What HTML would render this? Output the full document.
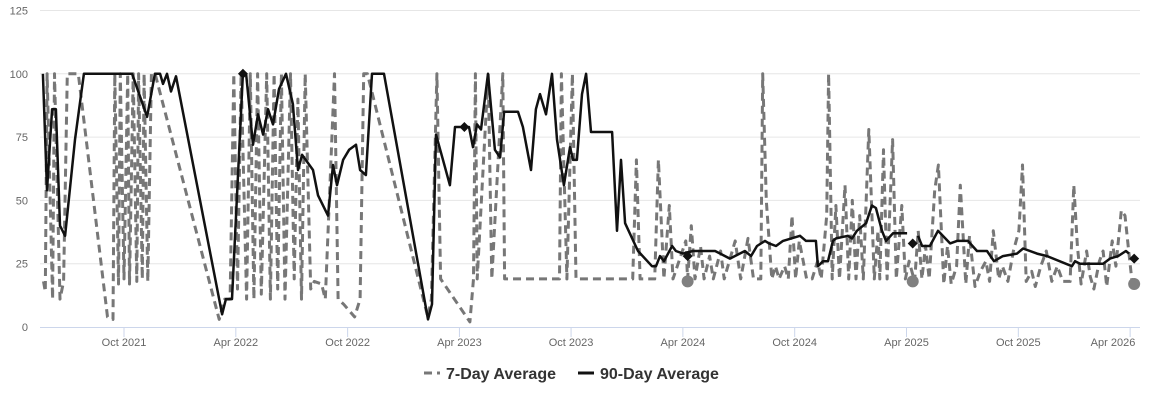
<!DOCTYPE html>
<html><head><meta charset="utf-8">
<style>
html,body{margin:0;padding:0;background:#fff;}
svg{display:block;font-family:"Liberation Sans",sans-serif;}
</style></head>
<body>
<svg id="chart" width="1150" height="401" viewBox="0 0 1150 401">
<g id="grid"></g>
<g id="xaxis"></g>
<g id="yaxis"></g>
<g id="series"></g>
<g id="legend">
  <g>
    <line x1="424" y1="373" x2="440" y2="373" stroke="#777" stroke-width="3" stroke-dasharray="8,5"/>
    <text x="446" y="379" font-size="16" font-weight="bold" fill="#333">7-Day Average</text>
  </g>
  <g>
    <line x1="578" y1="373" x2="594" y2="373" stroke="#111" stroke-width="3"/>
    <text x="600" y="379" font-size="16" font-weight="bold" fill="#333">90-Day Average</text>
  </g>
</g>
</svg>
<script>
const yTicks=[0,25,50,75,100,125];
const xTickT=[0,6.11,12.22,18.33,24.43,30.54,36.65,42.76,48.87,54.98];
const xTickLabels=["Oct 2021","Apr 2022","Oct 2022","Apr 2023","Oct 2023","Apr 2024","Oct 2024","Apr 2025","Oct 2025","Apr 2026"];
const avg90T=[-4.43,-4.21,-3.93,-3.72,-3.50,-3.22,-2.68,-2.19,0.44,1.26,1.69,1.97,2.13,2.35,2.57,2.84,5.36,5.57,5.90,6.50,6.67,7.05,7.32,7.60,7.87,8.14,8.47,8.85,9.23,9.51,9.73,10.33,10.60,11.15,11.42,11.64,11.97,12.30,12.68,12.90,13.22,13.55,14.21,16.61,16.83,17.05,17.43,17.81,18.09,18.85,19.07,19.29,19.51,19.89,20.27,20.55,20.77,21.53,21.80,22.24,22.51,22.73,23.06,23.39,23.66,24.04,24.37,24.54,24.75,25.03,25.25,25.52,26.67,26.94,27.16,27.38,28.09,28.85,29.07,29.29,29.51,29.95,30.16,30.55,31.09,31.37,32.30,33.11,33.93,34.26,34.59,35.03,35.25,35.63,36.01,36.94,37.27,37.81,37.92,38.20,38.47,38.74,38.91,39.56,39.78,40.05,40.55,40.87,41.09,41.42,41.64,42.02,42.79,43.1,43.39,43.61,44.04,44.48,45.14,45.52,46.12,46.61,47.16,47.54,48.03,48.80,49.13,49.89,50.44,51.80,51.97,52.24,52.79,53.33,53.50,53.88,54.32,54.75,54.92];
const avg90V=[100,54,86,86,40,36,74,100,100,83,100,100,96,100,93,99,5,11,11,100,100,72,84,76,86,80,94,100,88,62,68,62,52,44,64,56,66,70,72,62,60,100,100,3,9,76,66,56,79,79,71,80,78,100,70,67,85,85,79,62,86,92,84,100,74,56,71,66,66,92,100,77,77,38,66,41,30,24,24,28,26,32,30,29,30,30,30,27,30,28,32,34,33,32,34,36,34,34,24,26,26,34,35,36,35,38,41,48,47,38,34,37,37,null,36,32,32,38,33,34,34,30,30,26,28,29,31,29,28,24,26,25,25,25,25,27,28,30,29];
const avg7T=[-4.4,-4.3,-4.2,-3.9,-3.8,-3.5,-3.3,-3.1,-2.5,-0.9,-0.6,-0.5,-0.3,-0.2,0,0.2,0.3,0.5,0.7,0.8,1.0,1.1,1.3,1.5,1.7,5.2,5.5,5.8,6.0,6.2,6.4,6.7,6.9,7.1,7.3,7.5,7.8,8.0,8.2,8.4,8.6,8.8,9.1,9.3,9.5,9.7,9.9,10.2,10.4,10.8,11.0,11.5,11.7,12.0,12.6,12.9,13.1,13.3,16.6,16.8,17.1,17.3,18.9,19.1,19.2,19.3,19.9,20.1,20.7,20.8,23.8,23.9,24.2,24.5,24.7,27.8,28.0,28.2,29.0,29.2,29.5,29.8,30.0,30.7,30.8,31.0,31.2,31.5,31.7,32.0,32.2,32.6,32.8,33.4,33.7,34.1,34.4,34.8,34.9,35.1,35.4,35.6,35.8,36.1,36.3,36.5,36.7,36.9,37.3,37.6,37.9,38.1,38.4,38.5,38.7,38.9,39.1,39.4,39.6,39.8,40.0,40.2,40.4,40.7,41.0,41.2,41.3,41.5,41.7,42.0,42.2,42.5,42.7,42.9,43.2,43.4,43.6,43.8,44.0,44.3,44.5,44.8,45.0,45.2,45.5,45.7,46.0,46.2,46.5,46.8,47.1,47.3,47.5,47.8,48.0,48.3,48.6,48.9,49.1,49.3,49.6,49.8,50.1,50.4,50.7,51.0,51.3,51.7,51.9,52.1,52.3,52.6,52.8,53.0,53.3,53.5,53.7,54.0,54.2,54.5,54.7,54.9,55.1];
const avg7V=[18,14,100,11,100,11,18,100,100,4,3,100,17,100,19,100,17,100,18,100,19,100,18,100,100,3,11,11,100,15,100,11,100,11,100,13,100,11,100,15,100,11,100,19,90,11,100,15,18,17,11,100,11,9,4,11,100,100,4,11,100,19,2,19,100,19,100,19,100,19,19,100,19,100,19,19,66,19,19,66,19,48,19,34,19,40,19,32,19,28,19,30,19,34,19,35,19,19,100,50,19,24,19,24,19,44,19,34,19,19,26,19,44,100,19,48,19,56,19,50,19,44,19,78,19,38,19,70,19,74,19,48,19,26,18,38,19,32,19,54,64,17,32,17,24,56,17,36,16,22,26,18,38,19,24,18,30,38,64,18,22,16,24,30,18,24,18,18,56,32,17,30,20,15,26,30,16,34,24,46,44,30,17];
const diamondT=[6.5,18.6,30.8,43.1,55.2];
const diamondV=[100,79,28,33,27];
const circleT=[30.8,43.1,55.2];
const circleV=[18,18,17];

const NS="http://www.w3.org/2000/svg";
function xS(t){return 124+t*18.3;}
function yS(v){return 327-v*2.532;}
function mk(tag,attrs,parent){const e=document.createElementNS(NS,tag);for(const k in attrs)e.setAttribute(k,attrs[k]);parent.appendChild(e);return e;}
const grid=document.getElementById('grid'),yax=document.getElementById('yaxis'),xax=document.getElementById('xaxis'),ser=document.getElementById('series');
yTicks.forEach(v=>{
  if(v>0){const l=mk('line',{x1:40,x2:1140,y1:yS(v),y2:yS(v),stroke:'#e6e6e6','stroke-width':1},grid);
  
  }
  const t=mk('text',{x:28,y:yS(v)+4,'text-anchor':'end','font-size':11,fill:'#666'},yax);
  
  
  t.textContent=v;
});
const base=mk('line',{x1:40,x2:1140,y1:327.5,y2:327.5,stroke:'#ccd6eb','stroke-width':1},xax);


xTickT.forEach((t,i)=>{
  const tk=mk('line',{x1:xS(t),x2:xS(t),y1:327,y2:337,stroke:'#ccd6eb','stroke-width':1},xax);
  
  
  const lx=Math.min(xS(t),1113);
  const tx=mk('text',{x:lx,y:346,'text-anchor':'middle','font-size':11,fill:'#666'},xax);
  
  
  tx.textContent=xTickLabels[i];
});
function pathFrom(T,V){let d='',pen=false;for(let i=0;i<T.length;i++){if(V[i]===null){pen=false;continue;}d+=(pen?'L':'M')+xS(T[i]).toFixed(1)+' '+yS(V[i]).toFixed(1);pen=true;}return d;}
const p7=mk('path',{d:pathFrom(avg7T,avg7V),fill:'none',stroke:'#777','stroke-width':3,'stroke-dasharray':'8,5','stroke-linejoin':'round'},ser);


const p90=mk('path',{d:pathFrom(avg90T,avg90V),fill:'none',stroke:'#111','stroke-width':2.5,'stroke-linejoin':'round'},ser);


diamondT.forEach((t,i)=>{
  const x=xS(t),y=yS(diamondV[i]);
  const d=mk('path',{d:`M${x} ${y-5}L${x+5} ${y}L${x} ${y+5}L${x-5} ${y}Z`,fill:'#111'},ser);
  
  
});
circleT.forEach((t,i)=>{
  const c=mk('circle',{cx:xS(t),cy:yS(circleV[i]),r:6,fill:'#808080'},ser);
  
  
});
</script>
</body></html>
